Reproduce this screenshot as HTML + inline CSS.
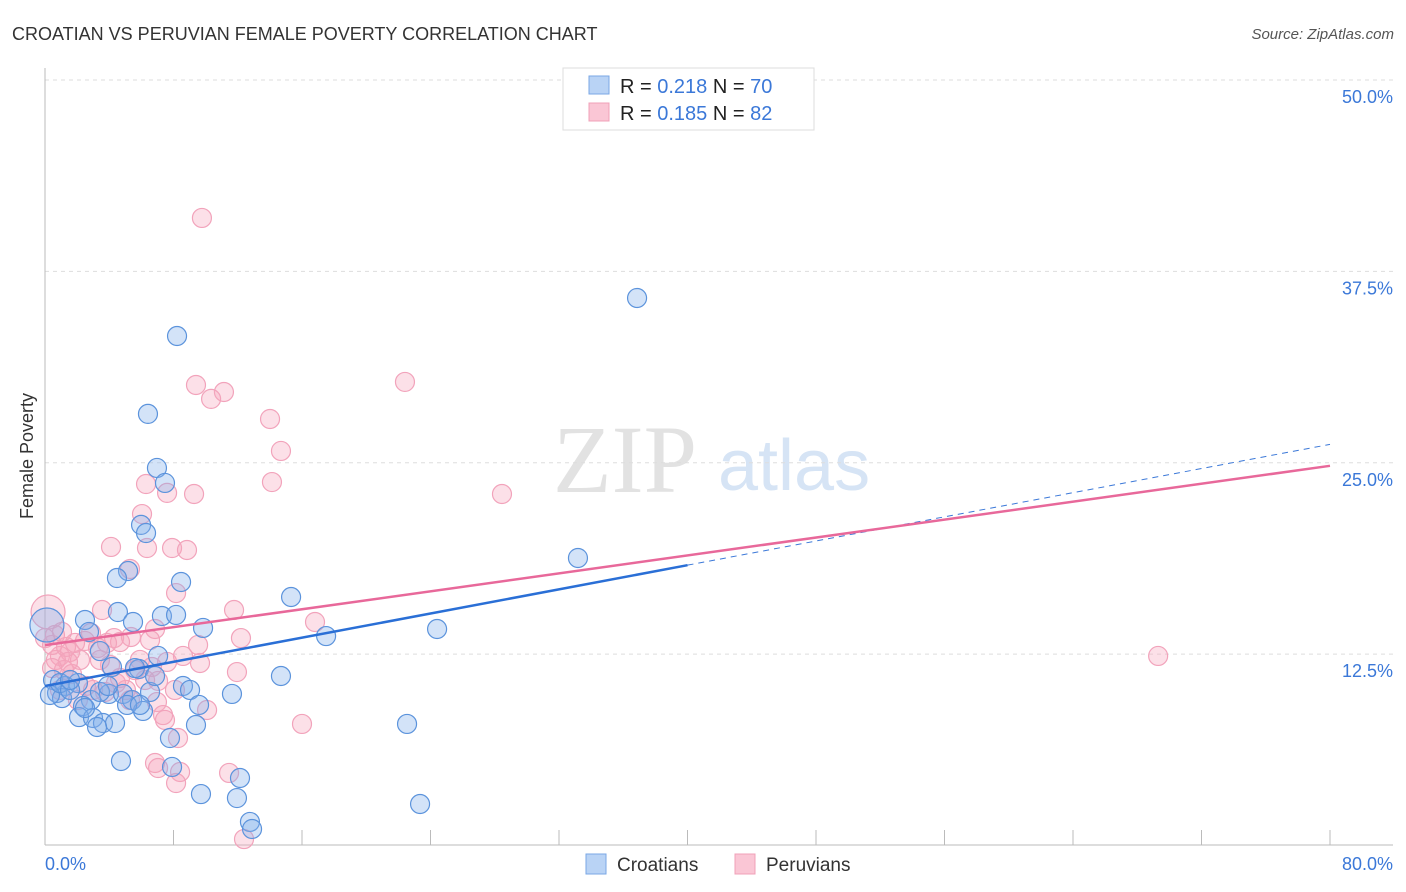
<!DOCTYPE html>
<html><head><meta charset="utf-8"><style>
body{margin:0;background:#fff;font-family:"Liberation Sans",sans-serif}
svg{display:block}
</style></head><body>
<svg id="chart" width="1406" height="892">
<text x="12" y="40" font-size="18" fill="#333">CROATIAN VS PERUVIAN FEMALE POVERTY CORRELATION CHART</text>
<text x="1394" y="39" font-size="15" fill="#555" font-style="italic" text-anchor="end">Source: ZipAtlas.com</text>
<text x="33" y="456" font-size="18" fill="#333" transform="rotate(-90 33 456)" text-anchor="middle">Female Poverty</text>
<g><text x="553" y="492" font-family="Liberation Serif,serif" font-size="96" fill="#e2e2e2">ZIP</text><text x="718" y="490" font-size="72" fill="#d6e4f5">atlas</text></g>
<g id="grid"></g><g id="axes"></g><g id="marks"></g><g id="trends"></g>
<g>
<rect x="563" y="68" width="251" height="62" fill="#fff" stroke="#ddd"/>
<rect x="589" y="76" width="20" height="18" fill="#b9d3f5" stroke="#7aa7e5"/>
<rect x="589" y="103" width="20" height="18" fill="#fac6d5" stroke="#f0a0b8"/>
<text x="620" y="93" font-size="20" fill="#222">R = <tspan fill="#3b78d8">0.218</tspan>   N = <tspan fill="#3b78d8">70</tspan></text>
<text x="620" y="120" font-size="20" fill="#222">R = <tspan fill="#3b78d8">0.185</tspan>   N = <tspan fill="#3b78d8"> 82</tspan></text>
</g>
<g>
<rect x="586" y="854" width="20" height="20" fill="#b9d3f5" stroke="#7aa7e5"/><text x="617" y="871" font-size="19" fill="#333">Croatians</text>
<rect x="735" y="854" width="20" height="20" fill="#fac6d5" stroke="#f0a0b8"/><text x="766" y="871" font-size="19" fill="#333">Peruvians</text>
</g>
</svg>
<script>
const xTicks=[0,10,20,30,40,50,60,70,80];
const yTicks=[12.5,25,37.5,50];
const yTickLabels=["12.5%","25.0%","37.5%","50.0%"];
const xEndLabels=["0.0%","80.0%"];
const blueX=[8.22,36.86,6.41,6.97,7.47,5.98,6.29,33.18,5.17,4.48,8.47,15.32,4.54,7.28,8.16,2.49,5.48,9.84,2.74,24.41,17.50,3.42,7.04,4.17,5.85,14.69,0.50,1.25,2.05,8.59,9.03,6.54,11.64,0.75,3.98,4.86,1.06,2.86,5.42,9.59,2.37,6.10,5.11,2.12,2.99,3.61,4.36,9.40,3.24,22.54,7.78,4.73,7.91,12.14,9.71,11.95,23.35,12.76,12.89,0.12,0.31,0.93,1.56,1.56,5.91,3.42,2.49,6.85,5.60,3.92];
const blueY=[33.28,35.76,28.19,24.66,23.68,20.94,20.41,18.78,17.93,17.47,17.21,16.23,15.25,14.99,15.06,14.73,14.60,14.21,13.95,14.14,13.68,12.70,12.38,11.66,11.53,11.07,10.81,10.42,10.61,10.42,10.16,10.03,9.90,9.96,9.90,9.90,9.63,9.50,9.50,9.18,9.11,8.79,9.18,8.39,8.33,8.00,8.00,7.87,7.74,7.94,7.02,5.52,5.13,4.41,3.36,3.10,2.71,1.54,1.08,14.40,9.83,10.61,10.16,10.81,9.18,10.03,8.98,11.07,11.59,10.42];
const pinkX=[9.77,22.41,9.40,11.14,10.34,14.01,14.69,14.13,6.29,7.60,9.28,28.45,6.04,4.11,6.35,7.91,8.84,5.29,8.16,3.55,11.77,16.81,6.85,2.86,5.35,4.30,12.20,4.67,3.86,9.53,8.59,1.56,0.93,0.68,2.18,9.65,11.95,6.66,7.60,4.05,5.60,1.18,1.68,7.04,4.42,2.55,8.09,5.04,3.74,6.97,10.09,7.35,16.00,8.28,6.85,7.04,8.41,11.46,8.16,12.39,69.30,0.19,0.44,0.62,1.31,1.87,3.30,5.91,4.67,2.49,2.99,1.43,0,1.06,0.44,2.05,5.29,6.23,7.47,0.93,3.42,6.54];
const pinkY=[40.99,30.28,30.08,29.62,29.17,27.86,25.77,23.74,23.61,23.03,22.96,22.96,21.65,19.50,19.43,19.43,19.30,18.06,16.49,15.38,15.38,14.60,14.14,13.88,13.62,13.55,13.55,13.29,13.23,13.10,12.38,12.64,12.38,12.12,12.12,11.92,11.33,11.66,11.99,11.79,11.46,11.46,11.20,10.75,10.61,10.42,10.16,10.16,10.03,9.37,8.85,8.52,7.94,7.02,5.39,5.06,4.80,4.74,4.08,0.42,12.38,15.25,13.10,13.75,12.97,13.23,12.90,12.12,10.94,13.36,10.16,11.99,13.55,13.95,11.59,9.50,9.50,10.81,8.20,10.16,12.12,13.42];
const blueBig=[59];const pinkBig=[61];
const blueTrend=[10.42,26.2];const blueSolidEnd=40;
const pinkTrend=[13.09,24.8];
const X0=45,X1=1330,Y0=845.5,Y50=80;
const sx=v=>X0+(v/80)*(X1-X0);
const sy=v=>Y0-(v/50)*(Y0-Y50);
const NS="http://www.w3.org/2000/svg";
function mk(t,a,p){const e=document.createElementNS(NS,t);for(const k in a)e.setAttribute(k,a[k]);p.appendChild(e);return e;}
const grid=document.getElementById('grid'),axes=document.getElementById('axes'),marks=document.getElementById('marks'),trends=document.getElementById('trends');
yTicks.forEach((t,i)=>{
 const l=mk('line',{x1:X0,x2:1393,y1:sy(t),y2:sy(t),stroke:'#ddd','stroke-dasharray':'4,4'},grid);
 
 
 const tx=mk('text',{x:1393,y:sy(t)+23,'font-size':18,fill:'#3b78d8','text-anchor':'end'},axes);
 tx.textContent=yTickLabels[i];
 
 
});
const la=mk('line',{x1:X0,x2:X0,y1:68,y2:845,stroke:'#bbb'},axes);


const ba=mk('line',{x1:X0,x2:1393,y1:845,y2:845,stroke:'#bbb'},axes);


for(let i=0;i<=10;i++){const v=i*8;
 const tk=mk('line',{x1:sx(v),x2:sx(v),y1:830,y2:845,stroke:'#bbb'},axes);
 
 }
const t0=mk('text',{x:45,y:870,'font-size':18,fill:'#3b78d8'},axes);t0.textContent=xEndLabels[0];


const t1=mk('text',{x:1393,y:870,'font-size':18,fill:'#3b78d8','text-anchor':'end'},axes);t1.textContent=xEndLabels[1];


function pts(X,Y,big,fill,stroke,name){X.forEach((x,i)=>{
 const c=mk('circle',{cx:sx(x),cy:sy(Y[i]),r:big.includes(i)?17:9.5,fill:fill,stroke:stroke,'stroke-width':1.2},marks);
 
 });}
pts(pinkX,pinkY,pinkBig,'rgba(246,165,190,0.35)','#f2a3bb','peruvian-point');
pts(blueX,blueY,blueBig,'rgba(130,175,235,0.35)','#5b93dc','croatian-point');
const by=x=>blueTrend[0]+(blueTrend[1]-blueTrend[0])*x/80;
const bd=mk('line',{x1:sx(blueSolidEnd),y1:sy(by(blueSolidEnd)),x2:sx(80),y2:sy(by(80)),stroke:'#3b78d8','stroke-width':1,'stroke-dasharray':'6,5'},trends);


const pl=mk('line',{x1:sx(0),y1:sy(pinkTrend[0]),x2:sx(80),y2:sy(pinkTrend[1]),stroke:'#e8689a','stroke-width':2.5},trends);


const bl=mk('line',{x1:sx(0),y1:sy(by(0)),x2:sx(blueSolidEnd),y2:sy(by(blueSolidEnd)),stroke:'#2a6fd6','stroke-width':2.5},trends);


</script>
</body></html>
